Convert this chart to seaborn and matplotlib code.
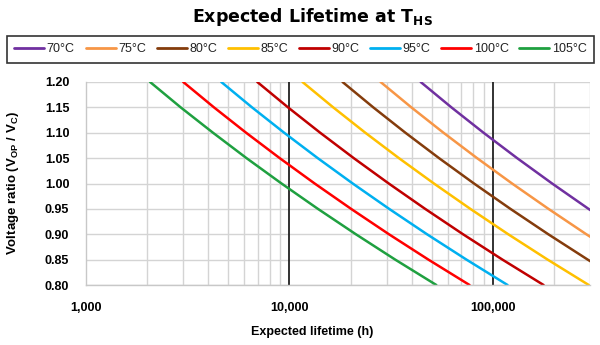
import matplotlib
matplotlib.use("Agg")
import matplotlib.pyplot as plt
import matplotlib.ticker as mticker
import seaborn as sns
import pandas as pd

# ---- data ----
voltage_ratio = [1.20, 1.15, 1.10, 1.05, 1.00, 0.95, 0.90, 0.85, 0.80]
temps = ["70°C", "75°C", "80°C", "85°C", "90°C", "95°C", "100°C", "105°C"]
life_70 = [44160, 62520, 89950, 131500, 195400, 295100, 452900, 697000, 1110000]
life_75 = [28050, 39720, 57150, 83560, 124200, 187500, 287700, 449800, 716100]
life_80 = [18240, 25820, 37150, 54330, 80720, 121900, 187100, 292400, 465600]
life_85 = [11590, 16410, 23600, 34510, 51290, 77450, 118900, 185800, 295800]
life_90 = [6950, 9840, 14160, 20700, 30760, 46450, 71290, 111400, 177400]
life_95 = [4624, 6546, 9419, 13770, 20460, 30900, 47420, 74130, 118000]
life_100 = [3006, 4256, 6124, 8954, 13300, 20090, 30830, 48190, 76740]
life_105 = [2065, 2920, 4210, 6150, 9140, 13800, 21200, 33100, 52700]
colors = ["#7030A0", "#F79646", "#843C0C", "#FFC000", "#C00000", "#00B0F0", "#FF0000", "#1FA040"]
x_ticks = [1000, 10000, 100000]
x_tick_labels = ["1,000", "10,000", "100,000"]
y_ticks = [0.80, 0.85, 0.90, 0.95, 1.00, 1.05, 1.10, 1.15, 1.20]

series = [life_70, life_75, life_80, life_85, life_90, life_95, life_100, life_105]
rows = []
for t, vals in zip(temps, series):
    for v, l in zip(voltage_ratio, vals):
        rows.append({"Temperature": t, "Voltage": v, "Lifetime": l})
df = pd.DataFrame(rows)

sns.set_theme(style="white")
plt.rcParams["font.family"] = ["Liberation Sans", "DejaVu Sans"]
plt.rcParams["text.color"] = "black"

fig = plt.figure(figsize=(6.0, 3.45), dpi=100)
ax = fig.add_axes([86/600, 1-285/345, (590-86)/600, (285-82)/345])

sns.lineplot(data=df, x="Lifetime", y="Voltage", hue="Temperature",
             hue_order=temps, palette=colors, linewidth=1.8, sort=False,
             estimator=None, ax=ax, legend=True)

ax.set_xscale("log")
ax.set_xlim(1000, 300000)
ax.set_ylim(0.80, 1.20)
ax.set_xticks(x_ticks)
ax.set_xticklabels(x_tick_labels)
ax.xaxis.set_minor_locator(mticker.LogLocator(base=10, subs=range(2, 10)))
ax.xaxis.set_minor_formatter(mticker.NullFormatter())
ax.set_yticks(y_ticks)
ax.yaxis.set_major_formatter(mticker.FormatStrFormatter("%.2f"))

ax.grid(False)
ax.grid(True, which="minor", axis="x", color="#D4D4D4", linewidth=1.0, zorder=0)
ax.grid(True, which="major", axis="y", color="#D4D4D4", linewidth=1.0, zorder=0)
for xv in [10000, 100000]:
    ax.axvline(xv, color="#222222", linewidth=1.3, zorder=1)

for s in ["top", "right"]:
    ax.spines[s].set_visible(False)
for s in ["left", "bottom"]:
    ax.spines[s].set_color("#C8C8C8")
    ax.spines[s].set_linewidth(1.0)

ax.tick_params(axis="both", which="both", length=0, labelsize=9, colors="black")
ax.tick_params(axis="x", pad=12)
ax.tick_params(axis="y", pad=12)
for lab in ax.get_xticklabels() + ax.get_yticklabels():
    lab.set_fontweight("bold")

ax.set_xlabel("Expected lifetime (h)", fontsize=9, fontweight="bold", color="black")
ax.xaxis.set_label_coords((312-86)/504, -(332-285)/203, transform=ax.transAxes)
ax.xaxis.label.set_va("center")
ax.set_ylabel(r"Voltage ratio (V$_{\mathregular{OP}}$ / V$_{\mathregular{C}}$)",
              fontsize=9.5, fontweight="bold", color="black")
ax.yaxis.set_label_coords(-(86-13)/504, 0.5, transform=ax.transAxes)
ax.yaxis.label.set_va("center")

fig.text(312/600, 1-17/345, r"Expected Lifetime at T$_{\mathregular{HS}}$",
         ha="center", va="center", fontsize=12.5, fontweight="bold",
         fontfamily="DejaVu Sans", color="black")

handles, labels = ax.get_legend_handles_labels()
ax.legend_.remove()
leg = fig.legend(handles, labels, loc="center", bbox_to_anchor=(300.5/600, 1-49.5/345),
                 ncol=8, frameon=True, fontsize=9, handlelength=2.4,
                 handletextpad=0.2, columnspacing=0.86, borderpad=0.6,
                 borderaxespad=0, fancybox=False, edgecolor="black")
leg.get_frame().set_linewidth(1.2)
for line in leg.get_lines():
    line.set_linewidth(2.0)
for txt in leg.get_texts():
    txt.set_color("#222222")

fig.savefig("out.png", dpi=100)
